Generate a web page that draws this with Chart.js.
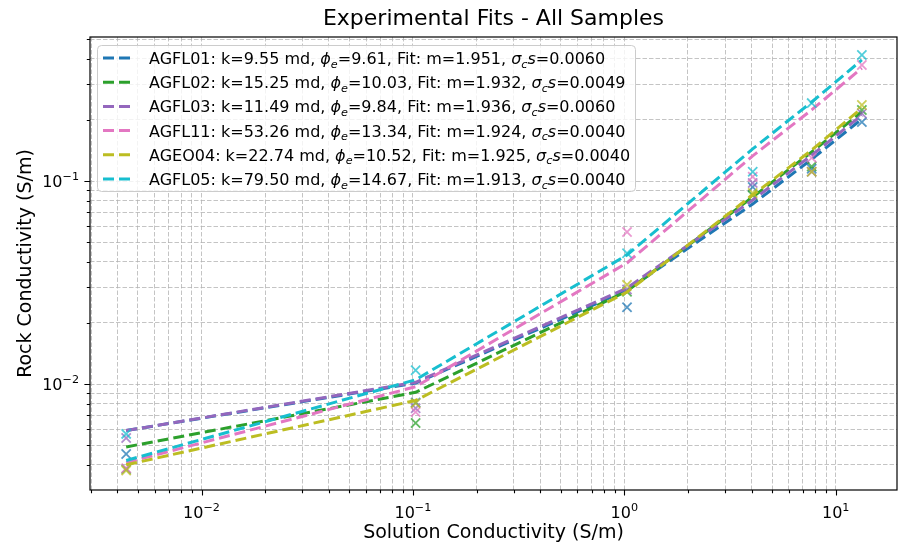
<!DOCTYPE html>
<html>
<head>
<meta charset="utf-8">
<script src="https://cdn.jsdelivr.net/npm/chart.js@4.4.1/dist/chart.umd.min.js"></script>
<style>
  html, body { margin: 0; padding: 0; background: #fff; }
  #wrap { width: 907px; height: 547px; }
</style>
</head>
<body>
<div id="wrap"><canvas id="fits"></canvas></div>
<script>
// solution conductivity (S/m) where each sample was measured / fitted
const solutionCond = [0.0044, 0.103, 1.03, 4.05, 7.7, 13.3];

const sampleNames = ["AGFL01", "AGFL02", "AGFL03", "AGFL11", "AGEO04", "AGFL05"];
const permeability = ["9.55", "15.25", "11.49", "53.26", "22.74", "79.50"];
const porosity = ["9.61", "10.03", "9.84", "13.34", "10.52", "14.67"];
const fitM = ["1.951", "1.932", "1.936", "1.924", "1.925", "1.913"];
const fitSigmaCs = ["0.0060", "0.0049", "0.0060", "0.0040", "0.0040", "0.0040"];
const colors = ["#1f77b4", "#2ca02c", "#9467bd", "#e377c2", "#bcbd22", "#17becf"];

// measured rock conductivity (S/m)
const measAGFL01 = [0.00452, 0.0081, 0.0239, 0.0934, 0.115, 0.195];
const measAGFL02 = [0.00381, 0.00643, 0.0285, 0.085, 0.118, 0.224];
const measAGFL03 = [0.00542, 0.0076, 0.0292, 0.0978, 0.111, 0.215];
const measAGFL11 = [0.00385, 0.00728, 0.0561, 0.105, 0.130, 0.373];
const measAGEO04 = [0.00375, 0.00805, 0.0308, 0.0873, 0.111, 0.237];
const measAGFL05 = [0.00568, 0.0117, 0.0441, 0.111, 0.242, 0.418];

// fitted rock conductivity (S/m)
const fitAGFL01 = [0.0059, 0.0101, 0.0290, 0.0771, 0.128, 0.202];
const fitAGFL02 = [0.0049, 0.0091, 0.0287, 0.0834, 0.139, 0.219];
const fitAGFL03 = [0.0059, 0.0102, 0.0297, 0.0806, 0.134, 0.211];
const fitAGFL11 = [0.0041, 0.0097, 0.0395, 0.133, 0.224, 0.360];
const fitAGEO04 = [0.0040, 0.0083, 0.0284, 0.0853, 0.142, 0.229];
const fitAGFL05 = [0.0042, 0.0105, 0.0432, 0.144, 0.245, 0.395];

const measured = [measAGFL01, measAGFL02, measAGFL03, measAGFL11, measAGEO04, measAGFL05];
const fitted = [fitAGFL01, fitAGFL02, fitAGFL03, fitAGFL11, fitAGEO04, fitAGFL05];

const xTickExps = [-2, -1, 0, 1];
const yTickExps = [-2, -1];

const FONT = '"DejaVu Sans", "Liberation Sans", sans-serif';

function withAlpha(hex, a) {
  const n = parseInt(hex.slice(1), 16);
  return `rgba(${n >> 16}, ${(n >> 8) & 255}, ${n & 255}, ${a})`;
}

// all 1..9 x 10^n ticks inside [min, max]
function logTicks(min, max) {
  const out = [];
  for (let e = -4; e <= 2; e++) {
    for (let m = 1; m <= 9; m++) {
      const v = +(m * Math.pow(10, e)).toPrecision(6);
      if (v >= min && v <= max) out.push({ value: v, major: m === 1 });
    }
  }
  return out;
}

// text with italic / sub / superscript pieces, y is the baseline
function drawRich(ctx, parts, x, y, size, align) {
  const items = parts.map(p => {
    const s = (p.sub || p.sup) ? size * 0.7 : size;
    const font = (p.it ? "italic " : "") + s + "px " + FONT;
    ctx.font = font;
    return { t: p.t, font, w: ctx.measureText(p.t).width, dy: p.sub ? size * 0.22 : p.sup ? -size * 0.42 : 0 };
  });
  const total = items.reduce((a, b) => a + b.w, 0);
  let cx = align === "center" ? x - total / 2 : align === "right" ? x - total : x;
  ctx.textAlign = "left";
  ctx.textBaseline = "alphabetic";
  items.forEach(it => {
    ctx.font = it.font;
    ctx.fillText(it.t, cx, y + it.dy);
    cx += it.w;
  });
  return total;
}

function powLabel(e) {
  return [{ t: "10" }, { t: (e < 0 ? "\u2212" : "") + Math.abs(e), sup: true }];
}

const datasets = [];
sampleNames.forEach((name, i) => {
  datasets.push({
    label: name + " data",
    data: solutionCond.map((x, j) => ({ x, y: measured[i][j] })),
    showLine: false,
    pointStyle: "crossRot",
    pointRadius: 6.5,
    pointBorderWidth: 1.8,
    borderColor: withAlpha(colors[i], 0.75),
    pointBorderColor: withAlpha(colors[i], 0.75),
    backgroundColor: "transparent",
    order: 100 - 2 * i
  });
  datasets.push({
    label: name + " fit",
    data: solutionCond.map((x, j) => ({ x, y: fitted[i][j] })),
    borderColor: colors[i],
    borderWidth: 3,
    borderDash: [11, 5],
    pointRadius: 0,
    pointHitRadius: 0,
    tension: 0,
    fill: false,
    order: 99 - 2 * i
  });
});

const decorations = {
  id: "decorations",
  afterDatasetsDraw(chart) {
    const { ctx, chartArea: a, scales: { x, y } } = chart;
    ctx.save();
    ctx.strokeStyle = "#000";
    ctx.fillStyle = "#000";
    ctx.lineWidth = 1.2;
    ctx.setLineDash([]);
    ctx.strokeRect(a.left, a.top, a.right - a.left, a.bottom - a.top);

    ctx.lineWidth = 1.1;
    ctx.beginPath();
    x.ticks.forEach(t => {
      const px = Math.round(x.getPixelForValue(t.value)) + 0.5;
      ctx.moveTo(px, a.bottom);
      ctx.lineTo(px, a.bottom + (t.major ? 5.6 : 3.2));
    });
    y.ticks.forEach(t => {
      const py = Math.round(y.getPixelForValue(t.value)) + 0.5;
      ctx.moveTo(a.left, py);
      ctx.lineTo(a.left - (t.major ? 5.6 : 3.2), py);
    });
    ctx.stroke();

    xTickExps.forEach(e => {
      drawRich(ctx, powLabel(e), x.getPixelForValue(Math.pow(10, e)), a.bottom + 28, 16, "center");
    });
    yTickExps.forEach(e => {
      drawRich(ctx, powLabel(e), a.left - 11, y.getPixelForValue(Math.pow(10, e)) + 6, 16, "right");
    });
    ctx.restore();
  },
  afterDraw(chart) {
    const { ctx, chartArea: a } = chart;
    ctx.save();
    ctx.fillStyle = "#000";
    const cx = (a.left + a.right) / 2;
    drawRich(ctx, [{ t: "Experimental Fits - All Samples" }], cx, 25, 22, "center");
    drawRich(ctx, [{ t: "Solution Conductivity (S/m)" }], cx, 538, 19, "center");
    ctx.translate(31, (a.top + a.bottom) / 2);
    ctx.rotate(-Math.PI / 2);
    drawRich(ctx, [{ t: "Rock Conductivity (S/m)" }], 0, 0, 19, "center");
    ctx.restore();

    // legend
    ctx.save();
    ctx.beginPath();
    ctx.roundRect(97.5, 45.5, 538, 146, 4);
    ctx.fillStyle = "rgba(255,255,255,0.8)";
    ctx.fill();
    ctx.strokeStyle = "#cccccc";
    ctx.lineWidth = 1;
    ctx.stroke();
    sampleNames.forEach((name, i) => {
      const rowY = 58 + i * 24.2;
      ctx.strokeStyle = colors[i];
      ctx.lineWidth = 3;
      ctx.setLineDash([11, 5]);
      ctx.beginPath();
      ctx.moveTo(103, rowY);
      ctx.lineTo(134, rowY);
      ctx.stroke();
      ctx.setLineDash([]);
      ctx.fillStyle = "#000";
      drawRich(ctx, [
        { t: `${name}: k=${permeability[i]} md, ` },
        { t: "\u03d5", it: true }, { t: "e", it: true, sub: true },
        { t: `=${porosity[i]}, Fit: m=${fitM[i]}, ` },
        { t: "\u03c3", it: true }, { t: "c", it: true, sub: true }, { t: "s", it: true },
        { t: `=${fitSigmaCs[i]}` }
      ], 149, rowY + 6, 16, "left");
    });
    ctx.restore();
  }
};

function axisOptions(min, max, isX) {
  return {
    type: "logarithmic",
    min, max,
    afterBuildTicks: scale => { scale.ticks = logTicks(min, max); },
    afterFit: scale => { if (isX) scale.height = 0; else scale.width = 0; },
    ticks: { display: false },
    grid: { color: "rgba(176,176,176,0.75)", lineWidth: 1, drawTicks: false },
    border: { display: false, dash: [4.5, 2] }
  };
}

new Chart(document.getElementById("fits"), {
  type: "line",
  data: { datasets },
  options: {
    responsive: true,
    maintainAspectRatio: false,
    animation: false,
    events: [],
    layout: { padding: { left: 90, right: 10, top: 37, bottom: 57 } },
    scales: {
      x: axisOptions(0.002967, 19.5, true),
      y: axisOptions(0.003006, 0.5122, false)
    },
    plugins: { legend: { display: false }, tooltip: { enabled: false }, title: { display: false } }
  },
  plugins: [decorations]
});
</script>
</body>
</html>
